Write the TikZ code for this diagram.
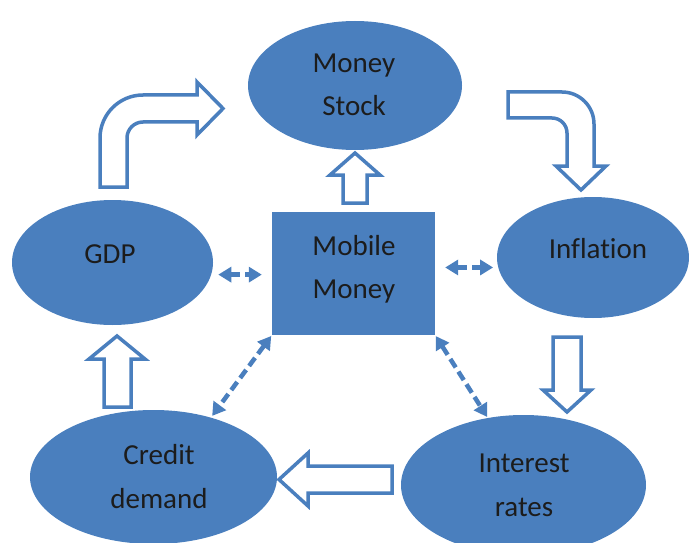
\documentclass[tikz,border=0pt]{standalone}
\usepackage{fontspec}
\setmainfont{Carlito}[Ligatures=CommonOff]
\usetikzlibrary{arrows.meta,shapes.geometric}
\definecolor{blockblue}{RGB}{74,127,190}
\definecolor{labeltext}{RGB}{28,28,28}

\begin{document}
\begin{tikzpicture}[x=1pt,y=-1pt,
  bubble/.style={ellipse, fill=blockblue, draw=none, inner sep=0pt},
  hub/.style={rectangle, fill=blockblue, draw=none, inner sep=0pt},
  lbl/.style={anchor=base, text=labeltext, font=\fontsize{29}{35}\selectfont, inner sep=0pt},
  flow/.style={draw=blockblue, fill=white, line width=3.5pt, line join=miter},
  link/.style={draw=blockblue, line width=4.5pt, dash pattern=on 10pt off 5pt,
    {Triangle[length=13pt,width=15pt]}-{Triangle[length=13pt,width=15pt]}}
]
\useasboundingbox (0,0) rectangle (689,543);
\clip (0,0) rectangle (689,543);

% main blocks
\node[bubble, minimum width=214pt, minimum height=129pt] (stock)    at (355,85.5) {};
\node[bubble, minimum width=192pt, minimum height=121pt] (infl)     at (593,257.5) {};
\node[bubble, minimum width=201pt, minimum height=125pt] (gdp)      at (112.5,262.5) {};
\node[bubble, minimum width=247pt, minimum height=134pt] (credit)   at (153.5,477) {};
\node[bubble, minimum width=245pt, minimum height=140pt] (interest) at (523.5,485) {};
\node[hub, minimum width=163pt, minimum height=123pt]    (mm)       at (353.5,273.5) {};

% labels
\node[lbl] (stockA)    at (354,73)  {Money};
\node[lbl] (stockB)    at (354,116) {Stock};
\node[lbl] (mmA)       at (354,255) {Mobile};
\node[lbl] (mmB)       at (354,298.5) {Money};
\node[lbl] (gdpA)      at (110,263) {GDP};
\node[lbl] (inflA)     at (598,258) {Inflation};
\node[lbl] (creditA)   at (159,464) {Credit};
\node[lbl] (creditB)   at (159,508) {demand};
\node[lbl] (interestA) at (524,472) {Interest};
\node[lbl] (interestB) at (524,516) {rates};

% bent block arrow: GDP up and over to Money Stock
\path[flow] (100,187) -- (127,187) -- (127,138)
  .. controls (127,129.2) and (134.2,122) .. (143,122)
  -- (197,122) -- (197,135) -- (223,108.5) -- (197,82) -- (197,95) -- (143,95)
  .. controls (119.3,95) and (100,114.3) .. (100,138) -- cycle;

% bent block arrow: Money Stock over and down to Inflation
\path[flow] (508,92) -- (562,92)
  .. controls (579.7,92) and (594,106.3) .. (594,124)
  -- (594,166) -- (606,166) -- (581,190) -- (556,166) -- (567,166) -- (567,133)
  .. controls (567,124.7) and (560.3,118) .. (552,118)
  -- (508,118) -- cycle;

% straight block arrows
\path[flow] (343,203) -- (343,175) -- (330,175) -- (355,153) -- (380,175) -- (367,175) -- (367,203) -- cycle;
\path[flow] (553,337) -- (581,337) -- (581,390) -- (591,390) -- (567,412) -- (543,390) -- (553,390) -- cycle;
\path[flow] (392,466) -- (392,493) -- (308,493) -- (308,506) -- (279,479.5) -- (308,453) -- (308,466) -- cycle;
\path[flow] (104,407) -- (104,359) -- (89,359) -- (117,336) -- (145,359) -- (131,359) -- (131,407) -- cycle;

% two-way dashed links around Mobile Money
\draw[link, shorten <=7pt, shorten >=10pt] (gdp.-7) -- (gdp.-7 -| mm.west);
\draw[link, shorten <=10pt, shorten >=5pt] (infl.186 -| mm.east) -- (infl.186);
\draw[link, shorten <=1pt, shorten >=2pt] (mm.south west) -- (credit.46);
\draw[link, shorten <=1pt, shorten >=1pt] (mm.south east) -- (interest.118);
\end{tikzpicture}
\end{document}
